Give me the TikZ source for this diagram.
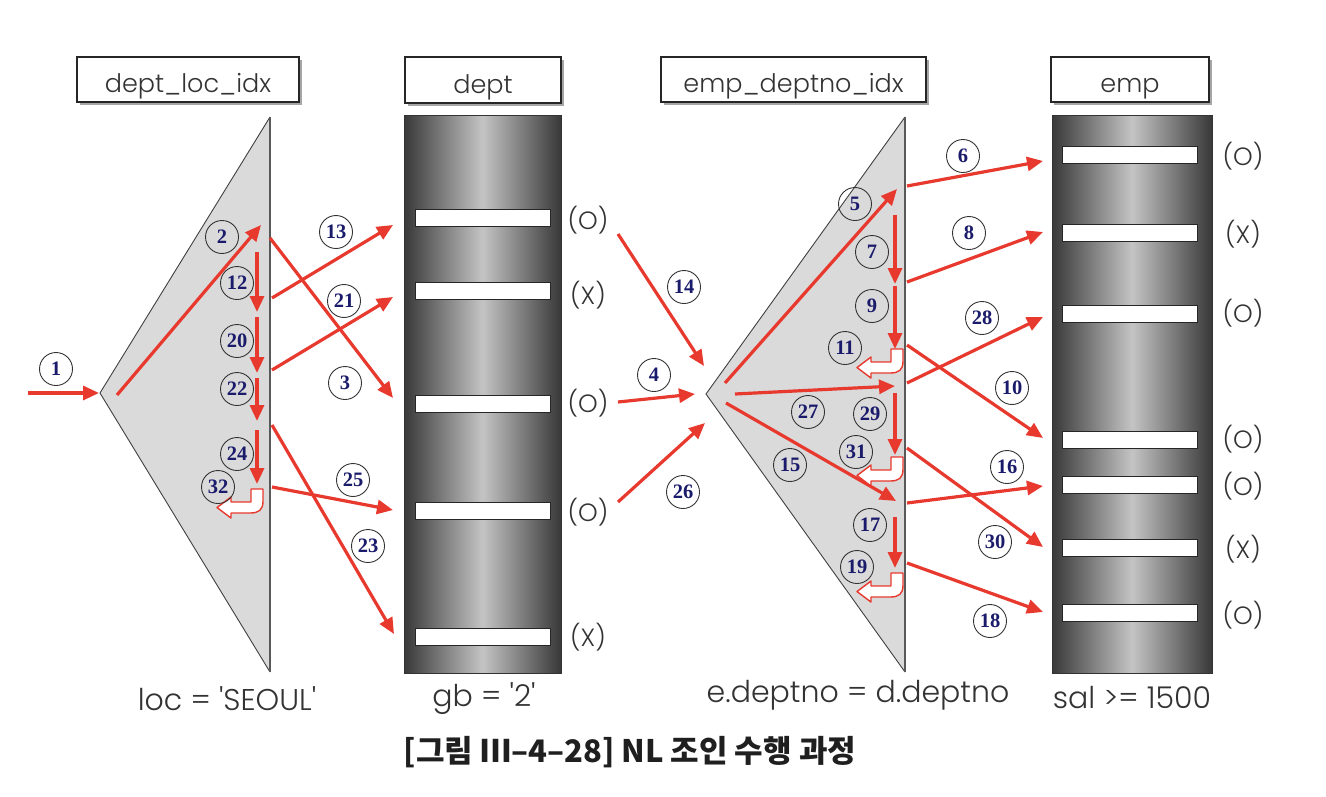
\documentclass[tikz,border=0pt]{standalone}
\usepackage{fontspec}
\setmainfont{Noto Sans CJK KR}
\newfontfamily\lab{Poppins}[UprightFont=* Light]
\newfontfamily\numfont{Liberation Serif}
\usetikzlibrary{arrows.meta,shadows}
\definecolor{arr}{HTML}{E8392E}
\definecolor{navy}{HTML}{1B1B6B}
\definecolor{tri}{HTML}{DADADA}
\definecolor{tdark}{HTML}{383838}
\definecolor{tlight}{HTML}{C4C4C4}
\definecolor{txt}{HTML}{333333}
\tikzset{
  ra/.style={draw=arr, line width=3.2pt, -{Triangle[length=16pt,width=14pt]}},
  num/.style={circle, draw=black!80, line width=0.9pt, minimum size=33pt, inner sep=0pt,
    font=\numfont\bfseries\fontsize{20.5}{20}\selectfont, text=navy},
  hdr/.style={rectangle, draw=black!85, line width=1.3pt, fill=white, inner sep=0pt,
    drop shadow={shadow xshift=3pt, shadow yshift=-3pt, fill=black!35, opacity=1},
    font=\lab\fontsize{25.5}{30}\selectfont, text=txt, text height=29pt, text depth=3pt},
  tbl/.style={rectangle, draw=black!80, line width=0.8pt, inner sep=0pt,
    left color=tdark, right color=tdark, middle color=tlight},
  rowbar/.style={rectangle, draw=black!85, line width=0.8pt, fill=white, inner sep=0pt,
    minimum width=135pt, minimum height=17pt},
  ox/.style={font=\lab\fontsize{25}{28}\selectfont, text=txt, inner sep=0pt},
  cond/.style={font=\lab\fontsize{30}{32}\selectfont, text=txt, inner sep=0pt},
  hook/.pic={\draw[draw=arr, fill=white, line width=1.4pt, line join=round]
    (0,0) -- (0,12) .. controls (0,21) and (-4,24) .. (-13,24) -- (-32,24) -- (-32,29)
    -- (-46,18.5) -- (-32,8) -- (-32,13) -- (-12,13) -- (-12,0) -- cycle;}
}
\begin{document}
\begin{tikzpicture}[x=1pt,y=-1pt]
\useasboundingbox (0,0) rectangle (1326,796);

% headers
\node[hdr, minimum width=222pt, minimum height=45pt] (h1) at (188,79.5) {dept\_loc\_idx};
\node[hdr, minimum width=156pt, minimum height=46pt] (h2) at (483,80) {dept};
\node[hdr, minimum width=265pt, minimum height=45pt] (h3) at (793.5,79.5) {emp\_deptno\_idx};
\node[hdr, minimum width=158pt, minimum height=45pt] (h4) at (1130,79.5) {emp};

% index triangles
\coordinate (t1top) at (270,117);
\coordinate (t1apex) at (100,393);
\coordinate (t1bot) at (270,672);
\fill[tri] (t1top) -- (t1apex) -- (t1bot) -- cycle;
\draw[black!75, line width=0.9pt] (t1top) -- (t1apex) -- (t1bot);
\draw[black!65, line width=2pt] (t1top) -- (t1bot);
\coordinate (t2top) at (905,117);
\coordinate (t2apex) at (706,394);
\coordinate (t2bot) at (905,672);
\fill[tri] (t2top) -- (t2apex) -- (t2bot) -- cycle;
\draw[black!75, line width=0.9pt] (t2top) -- (t2apex) -- (t2bot);
\draw[black!65, line width=2pt] (t2top) -- (t2bot);

% tables
\node[tbl, minimum width=157pt, minimum height=558pt] (dept) at (482.5,394) {};
\node[tbl, minimum width=160pt, minimum height=558pt] (emp) at (1132,394) {};
\foreach \n/\y in {1/217.5,2/290.5,3/403.5,4/510.5,5/637}
  \node[rowbar] (d\n) at (482.5,\y) {};
\foreach \n/\y in {1/154.5,2/233,3/314,4/439.5,5/484.5,6/548,7/612.5}
  \node[rowbar] (e\n) at (1129.5,\y) {};

% row results
\node[ox] (dl1) at (588,220) {(O)};
\node[ox] (dl2) at (588,295) {(X)};
\node[ox] (dl3) at (588,403) {(O)};
\node[ox] (dl4) at (588,512) {(O)};
\node[ox] (dl5) at (588,637) {(X)};
\node[ox] (el1) at (1243,156) {(O)};
\node[ox] (el2) at (1243,234) {(X)};
\node[ox] (el3) at (1243,313) {(O)};
\node[ox] (el4) at (1243,439) {(O)};
\node[ox] (el5) at (1243,486) {(O)};
\node[ox] (el6) at (1243,549) {(X)};
\node[ox] (el7) at (1243,615) {(O)};

% conditions
\node[cond] (c1) at (227,699) {loc = 'SEOUL'};
\node[cond] (c2) at (484,699) {gb = '2'};
\node[cond] (c3) at (858,695) {e.deptno = d.deptno};
\node[cond] (c4) at (1132,698) {sal >= 1500};

% caption
\node[font=\bfseries\fontsize{31}{34}\selectfont, text=black!88, inner sep=0pt] (cap) at (630,752)
  {[그림 Ⅲ–4–28] NL 조인 수행 과정};

% arrow end points
\coordinate (s1) at (28,393);   \coordinate (f1) at (99,393);
\coordinate (s2) at (117,395);  \coordinate (f2) at (261,225);
\coordinate (s12) at (257,252); \coordinate (f12) at (257,312);
\coordinate (s20) at (257,317); \coordinate (f20) at (257,373);
\coordinate (s22) at (257,378); \coordinate (f22) at (257,421);
\coordinate (s24) at (257,430); \coordinate (f24) at (257,484);
\coordinate (s3) at (270,238);  \coordinate (f3) at (393,398);
\coordinate (s13) at (272,298); \coordinate (f13) at (393,225);
\coordinate (s21) at (272,370); \coordinate (f21) at (393,297);
\coordinate (s23) at (272,425); \coordinate (f23) at (394,634);
\coordinate (s25) at (272,487); \coordinate (f25) at (393,510);
\coordinate (s14) at (618,234); \coordinate (f14) at (704,366);
\coordinate (s4) at (618,402);  \coordinate (f4) at (695,394);
\coordinate (s26) at (618,502); \coordinate (f26) at (705,423);
\coordinate (s5) at (725,383);  \coordinate (f5) at (897,189);
\coordinate (s7) at (895,215);  \coordinate (f7) at (895,284);
\coordinate (s9) at (895,286);  \coordinate (f9) at (895,349);
\coordinate (s27) at (735,394); \coordinate (f27) at (895,386);
\coordinate (s29) at (895,393); \coordinate (f29) at (895,455);
\coordinate (s15) at (726,403); \coordinate (f15) at (896,501);
\coordinate (s17) at (895,517); \coordinate (f17) at (895,568);
\coordinate (s6) at (907,186);  \coordinate (f6) at (1043,161);
\coordinate (s8) at (907,282);  \coordinate (f8) at (1043,232);
\coordinate (s28) at (907,383); \coordinate (f28) at (1043,317);
\coordinate (s10) at (907,345); \coordinate (f10) at (1043,438);
\coordinate (s16) at (907,503); \coordinate (f16) at (1043,486);
\coordinate (s30) at (907,448); \coordinate (f30) at (1043,547);
\coordinate (s18) at (907,563); \coordinate (f18) at (1043,612);

\foreach \k in {1,2,12,20,22,24,3,13,21,23,25,14,4,26,5,7,9,27,29,15,17,6,8,28,10,16,30,18}
  \draw[ra] (s\k) -- (f\k);

% turn-back hooks
\pic at (263,489) {hook};
\pic at (903,349) {hook};
\pic at (903,457) {hook};
\pic at (903,573) {hook};

% step numbers
\foreach \k/\x/\y in {1/56/369,2/222/237,12/237/283,20/237/341,22/237/389,24/237/454,32/218/487,
  13/336/232,21/344/301,3/345/383,25/353/480,23/368/546,
  14/684/287,4/654/375,26/683/492,
  5/855/204,7/872/252,9/872/306,11/845/348,27/808/412,29/870/414,31/856/452,15/790/465,17/870/525,19/857/567,
  6/963/156,8/969/233,28/982/318,10/1012/388,16/1007/467,30/995/542,18/990/621}
  \node[num] (n\k) at (\x,\y) {\k};
\end{tikzpicture}
\end{document}
